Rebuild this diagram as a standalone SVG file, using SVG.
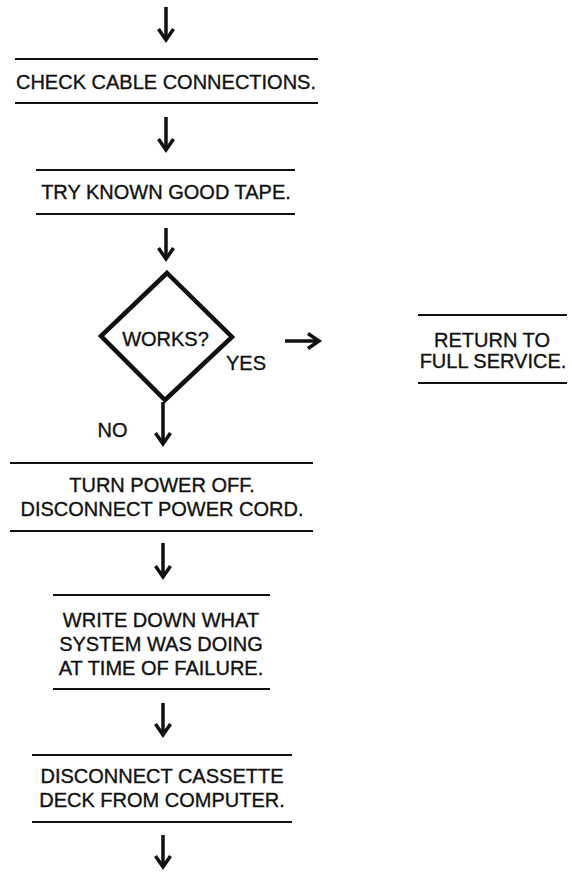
<svg xmlns="http://www.w3.org/2000/svg" width="572" height="872" viewBox="0 0 572 872">
<style>
  .t { font-family: "Liberation Sans", Arial, sans-serif; font-size: 20px; fill: #111; stroke: #111; stroke-width: 0.35; text-anchor: middle; }
  .rule { stroke: #111; stroke-width: 2; fill: none; }
  .conn { stroke: #111; stroke-width: 3.5; fill: none; }
</style>
<defs>
  <marker id="ah" markerUnits="userSpaceOnUse" viewBox="-16 -10 20 20" refX="0" refY="0" markerWidth="20" markerHeight="20" orient="auto" overflow="visible">
    <path d="M -11 -7.5 L 0 0 L -11 7.5" stroke="#111" stroke-width="3.5" fill="none" stroke-linejoin="miter"/>
  </marker>
</defs>
<rect width="572" height="872" fill="#fff"/>

<g id="connectors">
  <line class="conn" x1="166" y1="7" x2="166" y2="40" marker-end="url(#ah)"/>
  <line class="conn" x1="166" y1="117" x2="166" y2="150" marker-end="url(#ah)"/>
  <line class="conn" x1="166" y1="228" x2="166" y2="259" marker-end="url(#ah)"/>
  <line class="conn" x1="285" y1="341" x2="319" y2="341" marker-end="url(#ah)"/>
  <line class="conn" x1="163" y1="402" x2="163" y2="444" marker-end="url(#ah)"/>
  <line class="conn" x1="163" y1="543" x2="163" y2="577" marker-end="url(#ah)"/>
  <line class="conn" x1="163" y1="703" x2="163" y2="735" marker-end="url(#ah)"/>
  <line class="conn" x1="163" y1="835" x2="163" y2="867" marker-end="url(#ah)"/>
  <text class="t" x="246" y="370">YES</text>
  <text class="t" x="112.5" y="437">NO</text>
</g>

<g id="check-cables">
  <line class="rule" x1="15" y1="59" x2="318" y2="59"/>
  <text class="t" x="166" y="89">CHECK CABLE CONNECTIONS.</text>
  <line class="rule" x1="15" y1="103" x2="318" y2="103"/>
</g>

<g id="try-tape">
  <line class="rule" x1="36" y1="170" x2="295" y2="170"/>
  <text class="t" x="166" y="199">TRY KNOWN GOOD TAPE.</text>
  <line class="rule" x1="36" y1="214" x2="295" y2="214"/>
</g>

<g id="works">
  <polygon points="167,273 232,337 165,400 101,336" fill="none" stroke="#111" stroke-width="4.5" stroke-linejoin="miter"/>
  <text class="t" x="165.5" y="346">WORKS?</text>
</g>

<g id="return-service">
  <line class="rule" x1="418" y1="315" x2="567" y2="315"/>
  <text class="t" x="492" y="347">RETURN TO</text>
  <text class="t" x="493" y="368">FULL SERVICE.</text>
  <line class="rule" x1="418" y1="383" x2="567" y2="383"/>
</g>

<g id="power-off">
  <line class="rule" x1="10" y1="463" x2="313" y2="463"/>
  <text class="t" x="162" y="492">TURN POWER OFF.</text>
  <text class="t" x="162" y="516">DISCONNECT POWER CORD.</text>
  <line class="rule" x1="10" y1="531" x2="313" y2="531"/>
</g>

<g id="write-down">
  <line class="rule" x1="53" y1="595" x2="270" y2="595"/>
  <text class="t" x="161" y="627">WRITE DOWN WHAT</text>
  <text class="t" x="161" y="651">SYSTEM WAS DOING</text>
  <text class="t" x="161" y="675">AT TIME OF FAILURE.</text>
  <line class="rule" x1="53" y1="689" x2="270" y2="689"/>
</g>

<g id="disconnect-deck">
  <line class="rule" x1="32" y1="755" x2="292" y2="755"/>
  <text class="t" x="162" y="783">DISCONNECT CASSETTE</text>
  <text class="t" x="162" y="807">DECK FROM COMPUTER.</text>
  <line class="rule" x1="32" y1="822" x2="292" y2="822"/>
</g>
</svg>
